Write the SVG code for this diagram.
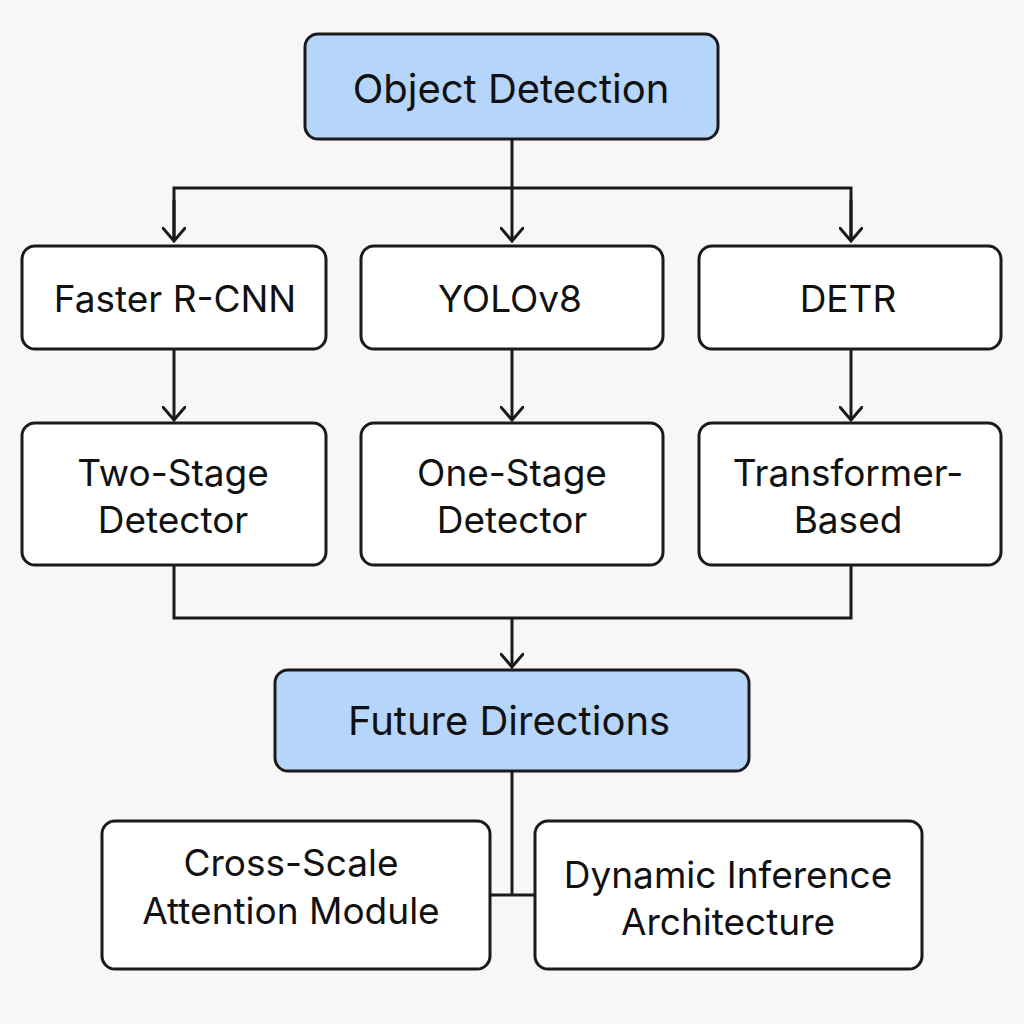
<svg xmlns="http://www.w3.org/2000/svg" width="1024" height="1024" viewBox="0 0 1024 1024">
<defs>
<style>
.box{fill:#ffffff;stroke:#1a1a1a;stroke-width:3}
.hl{fill:#b5d5fb;stroke:#1a1a1a;stroke-width:3}
.t{font-family:Inter,"Liberation Sans",Arial,sans-serif;font-size:37px;fill:#111;text-anchor:middle;dominant-baseline:central}
.big{font-size:40px}
.c{fill:none;stroke:#1a1a1a;stroke-width:3}
</style>
<marker id="d" markerWidth="24" markerHeight="16" refX="12" refY="14" orient="0" markerUnits="userSpaceOnUse" viewBox="0 0 24 16">
<path d="M0,0 L12,14 L24,0" fill="none" stroke="#1a1a1a" stroke-width="3"/>
</marker>
</defs>
<rect width="1024" height="1024" fill="#f7f7f7"/>
<g id="connectors">
<path class="c" d="M512,139 V241" marker-end="url(#d)"/>
<path class="c" d="M174,241 V188 H851 V241" />
<path class="c" d="M174,200 V241" marker-end="url(#d)"/>
<path class="c" d="M851,200 V241" marker-end="url(#d)"/>
<path class="c" d="M174,349 V420" marker-end="url(#d)"/>
<path class="c" d="M512,349 V420" marker-end="url(#d)"/>
<path class="c" d="M851,349 V420" marker-end="url(#d)"/>
<path class="c" d="M174,565 V618 H851 V565"/>
<path class="c" d="M512,618 V667" marker-end="url(#d)"/>
<path class="c" d="M512,771 V895 M490,895 H535"/>
</g>
<g id="object-detection">
<rect class="hl" x="305" y="34" width="413" height="105" rx="13"/>
<text class="t big" x="511" y="88">Object Detection</text>
</g>
<g id="faster-rcnn">
<rect class="box" x="22" y="246" width="304" height="103" rx="13"/>
<text class="t" x="175" y="298">Faster R-CNN</text>
</g>
<g id="yolov8">
<rect class="box" x="361" y="246" width="302" height="103" rx="13"/>
<text class="t" x="510" y="298">YOLOv8</text>
</g>
<g id="detr">
<rect class="box" x="699" y="246" width="302" height="103" rx="13"/>
<text class="t" x="848" y="298">DETR</text>
</g>
<g id="two-stage">
<rect class="box" x="22" y="423" width="304" height="142" rx="13"/>
<text class="t" x="173" y="472">Two-Stage</text>
<text class="t" x="173" y="519">Detector</text>
</g>
<g id="one-stage">
<rect class="box" x="361" y="423" width="302" height="142" rx="13"/>
<text class="t" x="512" y="472">One-Stage</text>
<text class="t" x="512" y="519">Detector</text>
</g>
<g id="transformer">
<rect class="box" x="699" y="423" width="302" height="142" rx="13"/>
<text class="t" x="848" y="472">Transformer-</text>
<text class="t" x="848" y="519">Based</text>
</g>
<g id="future-directions">
<rect class="hl" x="275" y="670" width="474" height="101" rx="13"/>
<text class="t big" x="509" y="720">Future Directions</text>
</g>
<g id="cross-scale">
<rect class="box" x="102" y="821" width="388" height="148" rx="13"/>
<text class="t" x="291" y="862">Cross-Scale</text>
<text class="t" x="291" y="910">Attention Module</text>
</g>
<g id="dynamic">
<rect class="box" x="535" y="821" width="387" height="148" rx="13"/>
<text class="t" x="728" y="874">Dynamic Inference</text>
<text class="t" x="728" y="921">Architecture</text>
</g>
</svg>
